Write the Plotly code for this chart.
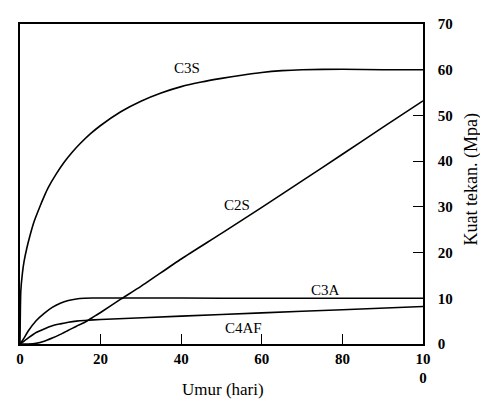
import plotly.graph_objects as go

# Data
c3s_x = [0, 0.2, 0.6, 1, 1.7, 2.5, 3.5, 5, 6, 7, 9, 11, 13, 15, 17.5, 20, 25, 30, 35, 40, 45, 50, 55, 60, 65, 70, 80, 90, 100]
c3s_y = [0, 11.6, 15.5, 18, 21, 23.8, 26.8, 30.2, 32.3, 34.2, 37.2, 39.8, 42.0, 43.9, 46.0, 47.8, 50.8, 53.1, 54.9, 56.3, 57.3, 58.1, 58.8, 59.4, 59.8, 60.0, 60.1, 60.0, 60.0]

c2s_x = [0, 2, 4, 6, 8, 10, 12, 14, 16, 18, 20, 25, 30, 40, 50, 60, 70, 80, 90, 100]
c2s_y = [0, 0, 0.15, 0.6, 1.3, 2.1, 3.0, 3.9, 4.7, 5.8, 6.9, 9.8, 12.6, 18.6, 24.2, 29.9, 35.7, 41.5, 47.4, 53.2]

c3a_x = [0, 1, 2, 4, 6, 8, 10, 12, 14, 16, 18, 20, 40, 60, 80, 100]
c3a_y = [0, 1.3, 2.8, 5.1, 6.7, 8.0, 8.9, 9.5, 9.85, 10, 10.05, 10.05, 10.05, 10, 10, 10]

c4af_x = [0, 2, 4, 6, 8, 10, 12, 14, 16, 20, 40, 60, 80, 100]
c4af_y = [0, 1.3, 2.5, 3.3, 4.0, 4.4, 4.75, 5.0, 5.15, 5.35, 6.1, 6.8, 7.5, 8.2]

x_tickvals = [0, 20, 40, 60, 80, 100]
x_ticktext = ["0", "20", "40", "60", "80", "10<br>0"]
y_tickvals = [0, 10, 20, 30, 40, 50, 60, 70]

labels = ["C3S", "C2S", "C3A", "C4AF"]
label_x = [41.5, 53.8, 75.9, 55.5]
label_y = [60.4, 30.4, 11.8, 3.4]

SERIF = "Liberation Serif, Times New Roman, serif"

fig = go.Figure()
for xs, ys in [(c3s_x, c3s_y), (c2s_x, c2s_y), (c3a_x, c3a_y), (c4af_x, c4af_y)]:
    fig.add_trace(go.Scatter(x=xs, y=ys, mode="lines",
                             line=dict(color="black", width=1.6, shape="spline", smoothing=0.6),
                             showlegend=False, hoverinfo="skip"))

for t, lx, ly in zip(labels, label_x, label_y):
    fig.add_annotation(x=lx, y=ly, text=t, showarrow=False, xref="x", yref="y",
                       font=dict(family=SERIF, size=15, color="black"))

fig.add_annotation(x=0.5, xshift=1, y=-0.106, xref="paper", yref="paper", text="Umur (hari)",
                   showarrow=False, yanchor="top",
                   font=dict(family=SERIF, size=17, color="black"))
fig.add_annotation(x=1.0, xshift=49, xanchor="center", y=0.514, xref="paper", yref="paper",
                   text="Kuat tekan. (Mpa)", showarrow=False, textangle=-90,
                   font=dict(family=SERIF, size=18, color="black"))

fig.update_xaxes(range=[0, 100], tickvals=x_tickvals, ticktext=x_ticktext,
                 ticks="inside", ticklen=10, tickwidth=1.3, tickcolor="black",
                 showline=True, linecolor="black", linewidth=1.6, mirror=True,
                 showgrid=False, zeroline=False,
                 tickfont=dict(family=SERIF, size=15, color="black", weight="bold"))
fig.update_yaxes(range=[0, 70], tickvals=y_tickvals, side="right",
                 ticks="inside", ticklen=10, tickwidth=1.3, tickcolor="black",
                 showline=True, linecolor="black", linewidth=1.6, mirror=True,
                 showgrid=False, zeroline=False, ticklabelstandoff=10,
                 tickfont=dict(family=SERIF, size=15, color="black", weight="bold"))

# page body has an 8px margin, so the figure is sized to end at the window edge
fig.update_layout(width=480, height=391, margin=dict(l=8, r=65, t=9, b=55),
                  plot_bgcolor="white", paper_bgcolor="white")

fig.write_html("out.html")
